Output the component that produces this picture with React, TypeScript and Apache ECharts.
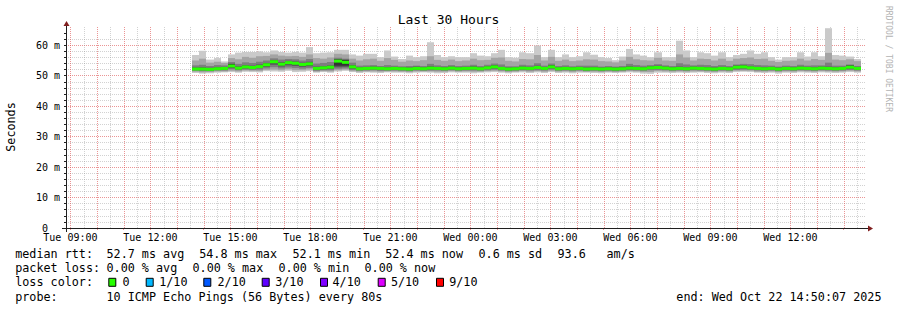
import React, { useEffect, useRef } from "react";
import * as echarts from "echarts";

// ---- time frame (hours since Tue 00:00) ----
const START_H = 8 + 50 / 60 + 7 / 3600; // Tue 08:50:07
const END_H = START_H + 30; // Wed 14:50:07
const BIN_START_H = 13 + 34 / 60;
const BIN_H = 16 / 60;

const X_LABEL_HOURS = [9, 12, 15, 18, 21, 24, 27, 30, 33, 36];
const X_LABELS = ["Tue 09:00", "Tue 12:00", "Tue 15:00", "Tue 18:00", "Tue 21:00", "Wed 00:00", "Wed 03:00", "Wed 06:00", "Wed 09:00", "Wed 12:00"];
const Y_LABEL_VALUES = [0, 10, 20, 30, 40, 50, 60];
const Y_LABELS = ["0\u00a0\u00a0", "10 m", "20 m", "30 m", "40 m", "50 m", "60 m"];

// ---- data (ms) ----
const MEDIAN = [52.2, 52.2, 52.1, 52.3, 52.4, 53.2, 52.5, 52.9, 52.7, 53.0, 53.6, 54.6, 53.8, 54.3, 54.1, 53.7, 53.9, 52.4, 52.6, 52.8, 54.8, 54.4, 52.9, 52.3,
  52.4, 52.5, 52.4, 52.3, 52.4, 52.3, 52.2, 52.4, 52.3, 52.5, 52.4, 52.3, 52.5, 52.3, 52.4, 52.5, 52.3, 52.6, 52.9, 52.4, 52.2, 52.3, 52.5, 52.4, 52.7, 52.4,
  52.9, 52.3, 52.4, 52.3, 52.4, 52.2, 52.3, 52.2, 52.3, 52.2, 52.3, 52.5, 52.4, 52.3, 52.6, 52.7, 52.5, 52.3, 52.4, 52.3, 52.5, 52.4, 52.3, 52.2, 52.4,
  52.3, 52.8, 52.9, 52.6, 52.4, 52.3, 52.4, 52.2, 52.4, 52.3, 52.5, 52.4, 52.3, 52.5, 52.4, 52.3, 52.4, 52.8, 52.4];
const PING10 = [56.8, 58.2, 55.3, 55.8, 54.7, 57.0, 57.6, 57.8, 57.8, 58.0, 57.7, 58.3, 57.8, 57.6, 57.8, 57.6, 59.4, 57.4, 57.6, 57.7, 58.5, 58.5, 57.0, 56.6,
  57.2, 57.2, 56.1, 58.3, 56.3, 55.5, 56.6, 56.1, 56.4, 61.0, 56.8, 56.1, 56.4, 56.1, 56.1, 57.4, 56.6, 56.4, 57.4, 58.5, 56.1, 55.9, 57.7, 57.4, 59.9, 56.1,
  58.5, 56.1, 57.0, 56.1, 56.4, 57.7, 56.9, 56.1, 55.8, 55.1, 56.3, 58.8, 57.0, 56.6, 56.1, 57.7, 56.1, 56.1, 61.5, 58.3, 56.1, 57.7, 57.4, 56.6, 57.7,
  56.1, 56.8, 57.2, 58.3, 57.2, 57.7, 56.1, 55.3, 56.1, 56.1, 57.7, 56.3, 57.7, 56.4, 65.6, 56.8, 56.6, 56.3, 55.5];
const PING9 = [55.0, 55.6, 54.3, 54.6, 54.2, 55.8, 55.4, 56.2, 55.9, 56.4, 56.5, 57.0, 56.6, 56.4, 56.5, 56.2, 57.0, 55.8, 55.6, 56.0, 57.2, 57.0, 55.6, 55.0,
  55.4, 55.6, 54.9, 55.8, 55.2, 54.6, 55.0, 54.8, 55.1, 56.4, 55.2, 54.9, 55.3, 54.8, 55.0, 55.6, 55.1, 55.2, 55.9, 56.0, 54.9, 54.7, 55.5, 55.4, 56.8, 55.0,
  56.2, 54.9, 55.3, 54.8, 55.0, 55.4, 55.3, 54.8, 54.7, 54.4, 55.0, 56.2, 55.4, 55.1, 55.0, 55.9, 55.0, 54.9, 57.0, 56.0, 55.0, 55.6, 55.5, 55.0, 55.6,
  54.9, 55.6, 55.8, 56.0, 55.5, 55.6, 54.9, 54.5, 54.9, 55.0, 55.6, 55.0, 55.5, 55.2, 57.5, 55.3, 55.1, 55.4, 54.8];
const PING8 = [53.4, 53.6, 53.2, 53.5, 53.4, 54.5, 53.9, 54.4, 54.2, 54.6, 55.0, 55.7, 55.3, 55.5, 55.4, 55.0, 55.5, 54.0, 54.2, 54.5, 55.9, 55.6, 54.3, 53.3,
  53.4, 53.5, 53.2, 53.5, 53.3, 53.1, 53.2, 53.3, 53.2, 53.9, 53.4, 53.2, 53.5, 53.2, 53.3, 53.6, 53.2, 53.6, 54.0, 53.7, 53.1, 53.1, 53.6, 53.4, 54.1, 53.3,
  54.0, 53.2, 53.4, 53.1, 53.3, 53.3, 53.3, 53.0, 53.2, 53.0, 53.2, 53.9, 53.5, 53.3, 53.5, 53.8, 53.4, 53.2, 54.1, 53.7, 53.4, 53.6, 53.5, 53.2, 53.5,
  53.2, 53.7, 53.9, 53.8, 53.5, 53.4, 53.3, 53.0, 53.3, 53.2, 53.6, 53.3, 53.4, 53.4, 54.3, 53.3, 53.3, 53.7, 53.2];
const PING7 = [52.7, 52.8, 52.6, 52.8, 52.9, 53.8, 53.1, 53.5, 53.3, 53.7, 54.2, 55.1, 54.5, 54.9, 54.7, 54.3, 54.6, 53.0, 53.2, 53.4, 55.5, 55.3, 53.5, 52.8,
  52.9, 53.0, 52.9, 52.8, 52.9, 52.8, 52.7, 53.0, 52.8, 53.1, 52.9, 52.8, 53.0, 52.8, 52.9, 53.1, 52.8, 53.1, 53.5, 52.9, 52.7, 52.8, 53.0, 52.9, 53.3, 52.9,
  53.5, 52.8, 52.9, 52.8, 52.9, 52.7, 52.8, 52.7, 52.8, 52.7, 52.8, 53.1, 52.9, 52.8, 53.1, 53.3, 53.0, 52.8, 53.0, 52.8, 53.0, 52.9, 52.8, 52.7, 52.9,
  52.8, 53.4, 53.5, 53.1, 52.9, 52.8, 52.9, 52.7, 52.9, 52.8, 53.0, 52.9, 52.8, 53.0, 53.0, 52.8, 52.9, 53.4, 52.9];
const PING6 = [52.4, 52.4, 52.3, 52.5, 52.7, 53.9, 52.8, 53.1, 52.9, 53.3, 53.8, 54.8, 54.1, 54.5, 54.3, 53.9, 54.2, 52.6, 52.8, 53.0, 55.3, 55.1, 53.1, 52.5,
  52.6, 52.7, 52.6, 52.5, 52.6, 52.5, 52.4, 52.6, 52.5, 52.7, 52.6, 52.5, 52.7, 52.5, 52.6, 52.7, 52.5, 52.8, 53.2, 52.6, 52.4, 52.5, 52.7, 52.6, 52.9, 52.6,
  53.3, 52.5, 52.6, 52.5, 52.6, 52.4, 52.5, 52.4, 52.5, 52.4, 52.5, 52.7, 52.6, 52.5, 52.8, 53.2, 52.7, 52.5, 52.6, 52.5, 52.7, 52.6, 52.5, 52.4, 52.6,
  52.5, 53.0, 53.1, 52.8, 52.6, 52.5, 52.6, 52.4, 52.6, 52.5, 52.7, 52.6, 52.5, 52.7, 52.6, 52.5, 52.6, 53.3, 52.6];
const PING5 = [52.1, 52.0, 52.0, 52.2, 52.2, 52.9, 52.4, 52.8, 52.6, 52.9, 53.4, 54.4, 53.6, 54.1, 53.9, 53.5, 53.7, 52.2, 52.5, 52.6, 53.3, 53.3, 52.7, 52.2,
  52.3, 52.4, 52.3, 52.2, 52.3, 52.2, 52.1, 52.3, 52.2, 52.4, 52.3, 52.2, 52.4, 52.2, 52.3, 52.4, 52.2, 52.5, 52.7, 52.3, 52.1, 52.2, 52.4, 52.3, 52.6, 52.3,
  52.8, 52.2, 52.3, 52.2, 52.3, 52.1, 52.2, 52.1, 52.2, 52.1, 52.2, 52.4, 52.3, 52.2, 52.5, 52.5, 52.4, 52.2, 52.3, 52.2, 52.4, 52.3, 52.2, 52.1, 52.3,
  52.2, 52.6, 52.7, 52.5, 52.3, 52.2, 52.3, 52.1, 52.3, 52.2, 52.4, 52.3, 52.2, 52.4, 52.3, 52.2, 52.3, 52.6, 52.3];
const PING4 = [51.9, 51.8, 51.8, 52.0, 52.0, 52.5, 52.1, 52.4, 52.3, 52.5, 52.9, 53.6, 53.0, 53.4, 53.2, 52.9, 53.1, 51.9, 52.1, 52.2, 52.8, 52.9, 52.3, 51.9,
  52.0, 52.1, 52.0, 51.9, 52.0, 51.9, 51.8, 52.0, 51.9, 52.1, 52.0, 51.9, 52.1, 51.9, 52.0, 52.1, 51.9, 52.2, 52.4, 52.0, 51.8, 51.9, 52.1, 52.0, 52.2, 52.0,
  52.4, 51.9, 52.0, 51.9, 52.0, 51.8, 51.9, 51.8, 51.9, 51.8, 51.9, 52.1, 52.0, 51.9, 52.2, 52.2, 52.1, 51.9, 52.0, 51.9, 52.1, 52.0, 51.9, 51.8, 52.0,
  51.9, 52.3, 52.4, 52.2, 52.0, 51.9, 52.0, 51.8, 52.0, 51.9, 52.1, 52.0, 51.9, 52.1, 52.0, 51.9, 52.0, 52.3, 52.0];
const PING3 = [51.6, 51.5, 51.5, 51.7, 51.7, 52.1, 51.8, 52.0, 51.9, 52.0, 52.4, 52.8, 52.4, 52.7, 52.5, 52.3, 52.5, 51.6, 51.8, 51.8, 52.3, 52.4, 51.9, 51.6,
  51.7, 51.8, 51.6, 51.6, 51.7, 51.6, 51.5, 51.7, 51.6, 51.7, 51.7, 51.6, 51.8, 51.6, 51.7, 51.7, 51.6, 51.8, 52.0, 51.7, 51.5, 51.6, 51.8, 51.7, 51.8, 51.7,
  52.0, 51.6, 51.7, 51.6, 51.7, 51.5, 51.6, 51.5, 51.6, 51.5, 51.6, 51.8, 51.7, 51.6, 51.8, 51.9, 51.8, 51.6, 51.7, 51.6, 51.8, 51.7, 51.6, 51.5, 51.7,
  51.6, 51.9, 52.0, 51.9, 51.7, 51.6, 51.7, 51.5, 51.7, 51.6, 51.8, 51.7, 51.6, 51.8, 51.7, 51.6, 51.7, 51.9, 51.7];
const PING2 = [51.3, 51.1, 51.2, 51.4, 51.4, 51.6, 51.4, 51.7, 51.6, 51.5, 51.9, 52.0, 51.8, 52.1, 51.8, 51.8, 52.0, 51.3, 51.5, 51.4, 51.8, 52.0, 51.5, 51.3,
  51.4, 51.4, 51.3, 51.4, 51.4, 51.3, 51.2, 51.4, 51.4, 51.4, 51.3, 51.3, 51.5, 51.3, 51.4, 51.3, 51.3, 51.5, 51.6, 51.4, 51.2, 51.3, 51.5, 51.3, 51.5, 51.3,
  51.6, 51.3, 51.4, 51.2, 51.4, 51.3, 51.3, 51.2, 51.3, 51.2, 51.3, 51.5, 51.4, 51.2, 51.2, 51.5, 51.4, 51.3, 51.4, 51.3, 51.4, 51.4, 51.3, 51.2, 51.4,
  51.3, 51.6, 51.6, 51.6, 51.3, 51.3, 51.4, 51.2, 51.4, 51.3, 51.5, 51.4, 51.3, 51.5, 51.4, 51.3, 51.4, 51.6, 51.4];
const PING1 = [50.9, 50.7, 50.8, 51.0, 51.1, 51.2, 51.0, 51.3, 51.2, 51.1, 51.5, 51.4, 51.3, 51.6, 51.2, 51.3, 51.5, 51.0, 51.2, 51.0, 51.4, 51.6, 51.2, 50.9,
  51.1, 51.0, 50.9, 51.1, 51.0, 51.0, 50.8, 51.0, 51.1, 51.0, 50.8, 50.9, 51.1, 51.0, 51.0, 50.8, 51.0, 51.1, 51.2, 51.0, 50.8, 51.0, 51.1, 50.9, 51.1, 50.9,
  51.2, 50.9, 51.0, 50.8, 51.0, 51.0, 50.9, 50.8, 51.0, 50.9, 51.0, 51.1, 51.0, 50.7, 50.6, 51.0, 51.0, 50.9, 51.0, 50.9, 51.0, 51.1, 50.9, 50.8, 51.0,
  50.9, 51.2, 51.3, 51.2, 51.0, 50.9, 51.0, 50.7, 51.0, 50.9, 51.1, 51.0, 50.9, 51.1, 51.0, 50.9, 51.0, 51.2, 51.0];

// ---- legend texts ----
const ROW_MEDIAN = ["median rtt:", "52.7 ms avg", "54.8 ms max", "52.1 ms min", "52.4 ms now", "0.6 ms sd", "93.6", "am/s"];
const ROW_LOSS = ["packet loss:", "0.00 % avg", "0.00 % max", "0.00 % min", "0.00 % now"];
const LOSS_LABELS = ["0", "1/10", "2/10", "3/10", "4/10", "5/10", "9/10"];
const LOSS_COLORS = ["#26ff00", "#00b8ff", "#0059ff", "#5e00ff", "#7e00ff", "#dd00ff", "#ff0000"];
const PROBE_TEXT = "10 ICMP Echo Pings (56 Bytes) every 80s";
const END_TEXT = "end: Wed Oct 22 14:50:07 2025";
const TITLE = "Last 30 Hours";
const Y_NAME = "Seconds";
const WATERMARK = "RRDTOOL / TOBI OETIKER";

// ---- styles / layout ----
const SMOKE_COLORS = ["#cacaca", "#a4a4a4", "#7e7e7e", "#585858", "#323232"];
const MGRID = "rgba(222,79,79,0.6)";
const GRID = "rgba(143,143,143,0.4)";
const AXIS = "#1f1f1f";
const ARROW = "#801f1f";
const MONO = '"DejaVu Sans Mono", monospace';
const G_LEFT = 66;
const G_TOP = 27;
const G_W = 800;
const G_H = 201;
const W = 897;
const H = 310;

const ROW_MEDIAN_X = [16, 107.3, 200, 293.3, 386, 479.3, 558.3, 607.3];
const ROW_LOSS_X = [16, 107.3, 193.3, 279.3, 365.3];
const LOSS_BOX_X = [108.3, 145.7, 203.3, 261.7, 320, 377.7, 436];
const LOSS_LABEL_X = [123.3, 160, 218.3, 276, 333.3, 391.7, 450];
const ROW_Y = [254, 268.3, 282.3, 296.7];

function txt(text: string, x: number, y: number, extra: any = {}) {
  return {
    type: "text",
    x,
    y,
    silent: true,
    style: {
      text,
      fill: "#000",
      font: `11.75px ${MONO}`,
      align: "left",
      verticalAlign: "middle",
      textAlign: "left",
      textVerticalAlign: "middle",
      ...extra,
    },
  };
}

export default function App() {
  const ref = useRef<HTMLDivElement>(null);
  useEffect(() => {
    if (!ref.current) return;
    const chart = echarts.init(ref.current, undefined, { renderer: "svg" });

    const rows = MEDIAN.map((m, k) => [
      BIN_START_H + k * BIN_H,
      BIN_START_H + (k + 1) * BIN_H,
      PING1[k], PING2[k], PING3[k], PING4[k], PING5[k],
      PING6[k], PING7[k], PING8[k], PING9[k], PING10[k],
      m,
    ]);

    // vertical grid: [hour, isMajor]
    const vGrid: number[][] = [];
    for (let h = 9; h < END_H; h += 0.5) vGrid.push([h, h % 1 === 0 ? 1 : 0]);
    const yTicks: number[] = [];
    for (let v = 0; v <= 64; v += 2) yTicks.push(v);
    const majorHours = vGrid.filter((g) => g[1] === 1).map((g) => g[0]);

    const graphics: any[] = [];
    graphics.push({ type: "line", silent: true, z: 100, shape: { x1: G_LEFT - 4, y1: G_TOP + G_H + 0.5, x2: G_LEFT + G_W + 5, y2: G_TOP + G_H + 0.5 }, style: { stroke: AXIS, lineWidth: 1 } });
    graphics.push({ type: "line", silent: true, z: 100, shape: { x1: G_LEFT + 0.5, y1: G_TOP + G_H + 4, x2: G_LEFT + 0.5, y2: G_TOP - 4 }, style: { stroke: AXIS, lineWidth: 1 } });
    graphics.push({ type: "polygon", silent: true, z: 100, shape: { points: [[G_LEFT + G_W + 2, G_TOP + G_H - 2.5], [G_LEFT + G_W + 2, G_TOP + G_H + 3.5], [G_LEFT + G_W + 7, G_TOP + G_H + 0.5]] }, style: { fill: ARROW } });
    graphics.push({ type: "polygon", silent: true, z: 100, shape: { points: [[G_LEFT - 2.5, G_TOP - 1], [G_LEFT + 3.5, G_TOP - 1], [G_LEFT + 0.5, G_TOP - 6]] }, style: { fill: ARROW } });
    graphics.push(txt(TITLE, W / 2, 19, { font: `13px ${MONO}`, align: "center", textAlign: "center" }));
    graphics.push({ ...txt(Y_NAME, 11, 127, { align: "center", textAlign: "center" }), rotation: Math.PI / 2 });
    graphics.push({ ...txt(WATERMARK, 888, 59, { font: `8px ${MONO}`, fill: "#b3b3b3", align: "center", textAlign: "center" }), rotation: -Math.PI / 2 });
    ROW_MEDIAN.forEach((t, i) => graphics.push(txt(t, ROW_MEDIAN_X[i] - 0.8, ROW_Y[0])));
    ROW_LOSS.forEach((t, i) => graphics.push(txt(t, ROW_LOSS_X[i] - 0.8, ROW_Y[1])));
    graphics.push(txt("loss color:", 16 - 0.8, ROW_Y[2]));
    LOSS_LABELS.forEach((t, i) => {
      graphics.push({ type: "rect", silent: true, shape: { x: LOSS_BOX_X[i] + 0.5, y: ROW_Y[2] - 4, width: 7, height: 8 }, style: { fill: LOSS_COLORS[i], stroke: "#000", lineWidth: 1 } });
      graphics.push(txt(t, LOSS_LABEL_X[i] - 0.8, ROW_Y[2]));
    });
    graphics.push(txt("probe:", 16 - 0.8, ROW_Y[3]));
    graphics.push(txt(PROBE_TEXT, 107.3 - 0.8, ROW_Y[3]));
    graphics.push(txt(END_TEXT, 881.5, ROW_Y[3], { align: "right", textAlign: "right" }));

    chart.setOption({
      animation: false,
      backgroundColor: "#ffffff",
      grid: { left: G_LEFT, top: G_TOP, width: G_W, height: G_H, containLabel: false },
      xAxis: {
        type: "value",
        min: START_H,
        max: END_H,
        axisLine: { show: false },
        splitLine: { show: false },
        axisTick: { show: true, customValues: majorHours, length: 2, lineStyle: { color: MGRID } },
        axisLabel: {
          customValues: X_LABEL_HOURS,
          formatter: (v: number) => {
            const i = X_LABEL_HOURS.findIndex((h) => Math.abs(h - v) < 1e-6);
            return i >= 0 ? X_LABELS[i] : "";
          },
          fontFamily: "DejaVu Sans Mono",
          fontSize: 10,
          color: "#000",
          margin: 4,
        },
      },
      yAxis: {
        type: "value",
        min: 0,
        max: 66,
        interval: 2,
        axisLine: { show: false },
        axisTick: { show: true, customValues: yTicks, length: 2, lineStyle: { color: AXIS } },
        splitLine: {
          show: true,
          showMaxLine: false,
          lineStyle: { color: [MGRID, GRID, GRID, GRID, GRID], type: [1, 1], width: 1 },
        },
        axisLabel: {
          customValues: Y_LABEL_VALUES,
          formatter: (v: number) => {
            const i = Y_LABEL_VALUES.indexOf(Math.round(v));
            return i >= 0 ? Y_LABELS[i] : "";
          },
          fontFamily: "DejaVu Sans Mono",
          fontSize: 10,
          color: "#000",
          margin: 6,
        },
      },
      series: [
        {
          type: "custom",
          z: 1,
          silent: true,
          clip: false,
          encode: { x: 0, y: -1 },
          data: vGrid,
          renderItem: (params: any, api: any) => {
            const h = api.value(0) as number;
            const major = api.value(1) === 1;
            const top = api.coord([h, 66]);
            const bot = api.coord([h, 0]);
            const x = Math.round(top[0]) + 0.5;
            return {
              type: "line",
              shape: { x1: x, y1: top[1], x2: x, y2: bot[1] },
              style: { stroke: major ? MGRID : GRID, lineWidth: 1, lineDash: [1, 1] },
            };
          },
        },
        {
          type: "custom",
          z: 3,
          clip: true,
          encode: { x: 0, y: 2 },
          data: rows,
          renderItem: (params: any, api: any) => {
            const t0 = api.value(0) as number;
            const t1 = api.value(1) as number;
            const xa = Math.round(api.coord([t0, 0])[0]);
            const xb = Math.round(api.coord([t1, 0])[0]);
            const children: any[] = [];
            for (let i = 0; i < 5; i++) {
              const lo = api.value(2 + i) as number;
              const hi = api.value(11 - i) as number;
              const yTop = api.coord([t0, hi])[1];
              const yBot = api.coord([t0, lo])[1];
              children.push({ type: "rect", shape: { x: xa, y: yTop, width: xb - xa, height: yBot - yTop }, style: { fill: SMOKE_COLORS[i] } });
            }
            const ym = api.coord([t0, api.value(12) as number])[1];
            children.push({ type: "rect", shape: { x: xa, y: ym - 1.5, width: xb - xa, height: 3 }, style: { fill: LOSS_COLORS[0] } });
            return { type: "group", children };
          },
        },
      ],
      graphic: graphics,
    });
    return () => chart.dispose();
  }, []);
  return <div ref={ref} style={{ position: "fixed", left: 0, top: 0, width: W, height: H, background: "#fff" }} />;
}
